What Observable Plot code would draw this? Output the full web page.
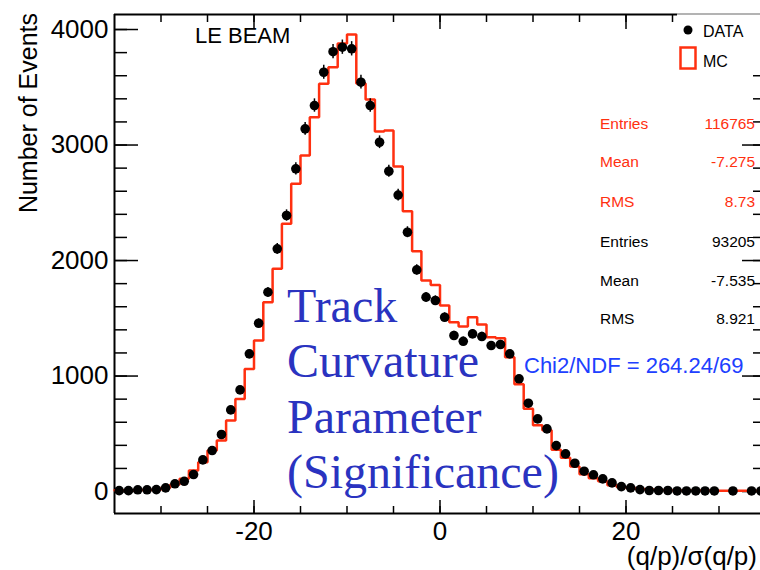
<!DOCTYPE html>
<html><head><meta charset="utf-8">
<script src="https://cdn.jsdelivr.net/npm/d3@7"></script>
<script src="https://cdn.jsdelivr.net/npm/@observablehq/plot@0.6"></script>
<style>
html,body{margin:0;padding:0;background:#fff;overflow:hidden;}
#chart{position:relative;width:760px;height:570px;overflow:hidden;}
#chart svg{overflow:hidden;display:block;}
</style></head><body><div id="chart"></div>
<script>
// ---- data (bin width 1, range -35..35) ----
const binCenters = [-34.5,-33.5,-32.5,-31.5,-30.5,-29.5,-28.5,-27.5,-26.5,-25.5,-24.5,-23.5,-22.5,-21.5,
  -20.5,-19.5,-18.5,-17.5,-16.5,-15.5,-14.5,-13.5,-12.5,-11.5,-10.5,-9.5,-8.5,-7.5,-6.5,-5.5,-4.5,-3.5,-2.5,-1.5,-0.5,
  0.5,1.5,2.5,3.5,4.5,5.5,6.5,7.5,8.5,9.5,10.5,11.5,12.5,13.5,14.5,15.5,16.5,17.5,18.5,19.5,
  20.5,21.5,22.5,23.5,24.5,25.5,26.5,27.5,28.5,29.5,30.5,31.5,32.5,33.5,34.5];
const dataCounts = [8,8,15,15,17,32,67,89,147,274,355,494,707,880,
  1192,1457,1726,2101,2390,2794,3140,3342,3630,3808,
  3847,3833,3544,3342,3024,2773,2567,2245,1919,1683,1654,
  1509,1351,1301,1365,1342,1264,1273,1192,976,765,
  629,543,398,326,245,176,145,110,75,43,32,17,9,9,9,5,5,5,5,5,null,5,null,5,5];
const mcCounts = [12,12,13,14,15,
  32,61,110,182,254,355,442,615,802,
  1062,1307,1639,1928,2318,2664,2909,3241,3530,3674,
  3879,3957,3532,3394,3117,3126,2814,2427,2081,1827,1789,
  1610,1466,1429,1509,1446,1336,1327,1163,930,716,
  575,530,361,292,216,150,115,90,55,40,30,22,17,14,12,10,10,9,9,8,8,8,8,8,8];
const binWidth = 1;
const xDomain = [-35, 35];
const yDomain = [-190, 4130];
const xLabelTicks = [-20, 0, 20];
const xMinorTicks = [-30,-25,-20,-15,-10,-5,0,5,10,15,20,25,30];
const yMajorTicks = [0, 1000, 2000, 3000, 4000];
const yMinorTicks = [0,200,400,600,800,1000,1200,1400,1600,1800,2000,2200,2400,2600,2800,3000,3200,3400,3600,3800,4000];
const plotTitle = "LE BEAM";
const xTitle = "(q/p)/\u03c3(q/p)";
const yTitle = "Number of Events";
const legendItems = ["DATA", "MC"];
const mcStats = [["Entries","116765"],["Mean","-7.275"],["RMS","8.73"]];
const dataStats = [["Entries","93205"],["Mean","-7.535"],["RMS","8.921"]];
const chi2Text = "Chi2/NDF = 264.24/69";
const bigText = ["Track", "Curvature", "Parameter", "(Significance)"];

// ---- tables built from the arrays ----
const dataRows = binCenters.map((c, i) => ({c, v: dataCounts[i]})).filter(d => d.v != null);
const mcStep = [];
binCenters.forEach((c, i) => {
  mcStep.push({x: c - binWidth / 2, y: mcCounts[i]});
  mcStep.push({x: c + binWidth / 2, y: mcCounts[i]});
});

const RED = "#ff3010";
const fmt = d => String(d);
const tickStyle = {strokeWidth: 1.5, label: null, tickFormat: () => ""};

const chart = Plot.plot({
  width: 760, height: 570,
  marginLeft: 114, marginRight: -5, marginTop: 14, marginBottom: 57,
  style: {fontFamily: "'Liberation Sans', Arial, sans-serif", background: "white", color: "black", overflow: "hidden"},
  x: {domain: xDomain, label: null, axis: null},
  y: {domain: yDomain, label: null, axis: null},
  marks: [
    // ticks (inward, ROOT style)
    Plot.axisX({...tickStyle, anchor: "bottom", ticks: xMinorTicks, tickSize: -7}),
    Plot.axisX({...tickStyle, anchor: "bottom", ticks: xLabelTicks, tickSize: -13}),
    Plot.axisX({...tickStyle, anchor: "top", ticks: xMinorTicks, tickSize: -7}),
    Plot.axisX({...tickStyle, anchor: "top", ticks: xLabelTicks, tickSize: -14}),
    Plot.axisY({...tickStyle, anchor: "left", ticks: yMinorTicks, tickSize: -13}),
    Plot.axisY({...tickStyle, anchor: "left", ticks: yMajorTicks, tickSize: -24}),
    Plot.axisY({...tickStyle, anchor: "right", ticks: yMinorTicks, tickSize: -13}),
    Plot.axisY({...tickStyle, anchor: "right", ticks: yMajorTicks, tickSize: -24}),
    // tick labels
    Plot.axisX({anchor: "bottom", ticks: xLabelTicks, tickSize: 0, tickPadding: 8, tickFormat: fmt, fontSize: 26, label: null}),
    Plot.axisY({anchor: "left", ticks: yMajorTicks, tickSize: 0, tickPadding: 6, tickFormat: fmt, fontSize: 26, label: null}),
    // frame
    Plot.ruleX([xDomain[0], xDomain[1]], {stroke: "black", strokeWidth: 2}),
    Plot.ruleY([yDomain[0], yDomain[1]], {stroke: "black", strokeWidth: 2}),
    // MC histogram
    Plot.line(mcStep, {x: "x", y: "y", stroke: RED, strokeWidth: 2.5, strokeLinejoin: "miter"}),
    // DATA with errors
    Plot.ruleX(dataRows, {x: "c", y1: d => d.v - Math.sqrt(d.v), y2: d => d.v + Math.sqrt(d.v), stroke: "black", strokeWidth: 1.5}),
    Plot.dot(dataRows, {x: "c", y: "v", r: 4.8, fill: "black", stroke: "none"})
  ]
});

document.getElementById("chart").appendChild(chart);

// ---- annotations ----
const svg = d3.select(chart);
const ann = svg.append("g").attr("font-family", "'Liberation Sans', Arial, sans-serif").attr("text-anchor", "start");

// legend box
ann.append("rect").attr("x", 677).attr("y", 13).attr("width", 90).attr("height", 60).attr("fill", "white");
ann.append("line").attr("x1", 677).attr("x2", 760).attr("y1", 14).attr("y2", 14).attr("stroke", "#9a9a9a").attr("stroke-width", 1.5);
ann.append("circle").attr("cx", 688).attr("cy", 30).attr("r", 4.5).attr("fill", "black");
ann.append("text").attr("x", 703).attr("y", 37).attr("font-size", 16).text(legendItems[0]);
ann.append("rect").attr("x", 680.5).attr("y", 47.5).attr("width", 15).attr("height", 21).attr("fill", "none").attr("stroke", RED).attr("stroke-width", 2.5);
ann.append("text").attr("x", 703).attr("y", 67).attr("font-size", 16).text(legendItems[1]);

// title
ann.append("text").attr("x", 195).attr("y", 43).attr("font-size", 22).text(plotTitle);

// stats
const statY = [129, 167, 207, 247, 286, 324];
mcStats.concat(dataStats).forEach((s, i) => {
  const col = i < 3 ? RED : "black";
  ann.append("text").attr("x", 600).attr("y", statY[i]).attr("font-size", 15.5).attr("fill", col).text(s[0]);
  ann.append("text").attr("x", 755).attr("y", statY[i]).attr("font-size", 15.5).attr("fill", col).attr("text-anchor", "end").text(s[1]);
});

// chi2
ann.append("text").attr("x", 524).attr("y", 373).attr("font-size", 22).attr("fill", "#2040ff").text(chi2Text);

// big overlay text
const big = ann.append("text").attr("font-family", "'Liberation Serif', 'Times New Roman', serif").attr("font-size", 48).attr("fill", "#2a33c0");
const bigY = [322, 377, 433, 488];
bigText.forEach((t, i) => big.append("tspan").attr("x", 287).attr("y", bigY[i]).text(t));

// axis titles
ann.append("text").attr("x", 757).attr("y", 565).attr("font-size", 26).attr("text-anchor", "end").text(xTitle);
ann.append("text").attr("transform", "translate(37,13) rotate(-90)").attr("font-size", 25).attr("text-anchor", "end").text(yTitle);
</script></body></html>
